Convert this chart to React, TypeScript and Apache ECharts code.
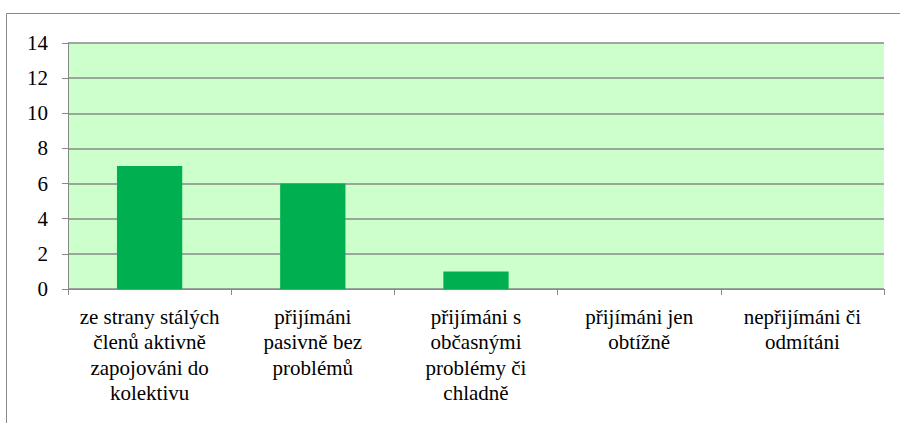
import React, { useEffect, useRef } from "react";
import * as echarts from "echarts";

const categories = [
  "ze strany stálých\nčlenů aktivně\nzapojováni do\nkolektivu",
  "přijímáni\npasivně bez\nproblémů",
  "přijímáni s\nobčasnými\nproblémy či\nchladně",
  "přijímáni jen\nobtížně",
  "nepřijímáni či\nodmítáni",
];
const values = [7, 6, 1, 0, 0];
const yMin = 0;
const yMax = 14;
const yStep = 2;
const yTickLabels = ["0", "2", "4", "6", "8", "10", "12", "14"];

const FONT = "Liberation Serif, Times New Roman, serif";
const FONT_SHORT = "21px Liberation Serif, Times New Roman, serif";

export default function App() {
  const ref = useRef<HTMLDivElement>(null);
  useEffect(() => {
    document.body.style.margin = "0";
    const chart = echarts.init(ref.current!, undefined, { renderer: "svg" });
    const border = {
      id: "border",
      type: "rect",
      shape: { x: 6.5, y: 13.5, width: 1000, height: 1000 },
      style: { fill: "none", stroke: "#888888", lineWidth: 1 },
      silent: true,
      z: -10,
    };
    chart.setOption({
      animation: false,
      backgroundColor: "#ffffff",
      textStyle: { fontFamily: FONT },
      graphic: [border],
      grid: {
        left: 68,
        right: 16,
        top: 43,
        bottom: 134,
        show: true,
        backgroundColor: "#CCFFCC",
        borderWidth: 0,
      },
      xAxis: {
        type: "category",
        data: categories,
        boundaryGap: true,
        axisLine: { show: true, lineStyle: { color: "#888888", width: 1 } },
        axisTick: { show: true, length: 6, lineStyle: { color: "#888888" } },
        axisLabel: { show: false, interval: 0 },
      },
      yAxis: {
        type: "value",
        min: yMin,
        max: yMax,
        interval: yStep,
        axisLine: { show: true, lineStyle: { color: "#888888", width: 1 } },
        axisTick: { show: true, length: 6, lineStyle: { color: "#888888" } },
        axisLabel: { show: false },
        splitLine: { show: true, lineStyle: { color: "#888888", width: 1.5 } },
      },
      series: [
        {
          type: "bar",
          data: values,
          barWidth: "40%",
          itemStyle: { color: "#00B050" },
        },
      ],
    });

    const axisY = chart.convertToPixel({ yAxisIndex: 0 }, yMin) as number;
    const gridLeft = 68;
    const texts: any[] = [];
    categories.forEach((c, i) => {
      const x = chart.convertToPixel({ xAxisIndex: 0 }, i) as number;
      texts.push({
        id: "xl" + i,
        type: "text",
        x,
        y: axisY + 15,
        silent: true,
        style: {
          text: c,
          font: FONT_SHORT,
          fontFamily: FONT,
          fontSize: 21,
          lineHeight: 25.5,
          fill: "#000000",
          align: "center",
          verticalAlign: "top",
        },
      });
    });
    yTickLabels.forEach((t, i) => {
      const y = chart.convertToPixel({ yAxisIndex: 0 }, Number(t)) as number;
      texts.push({
        id: "yl" + i,
        type: "text",
        x: gridLeft - 20,
        y,
        silent: true,
        style: {
          text: t,
          font: FONT_SHORT,
          fontFamily: FONT,
          fontSize: 21,
          fill: "#000000",
          align: "right",
          verticalAlign: "middle",
        },
      });
    });
    chart.setOption({ graphic: [border, ...texts] });
    return () => chart.dispose();
  }, []);
  return <div ref={ref} style={{ width: 900, height: 423 }} />;
}
